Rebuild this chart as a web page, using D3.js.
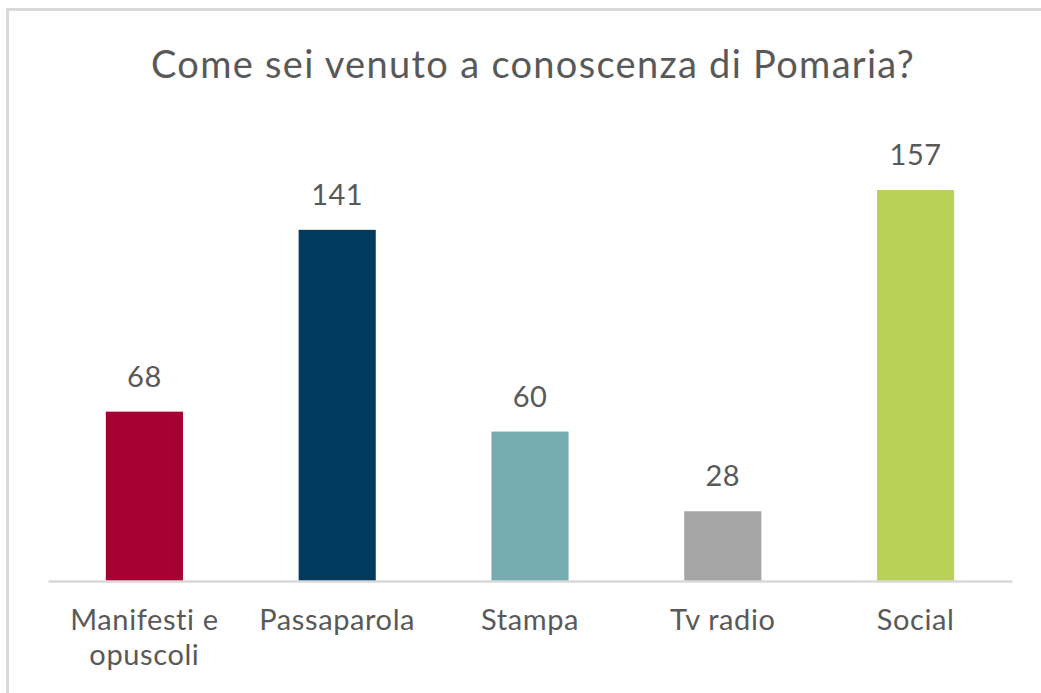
<!DOCTYPE html>
<html><head><meta charset="utf-8">
<script src="https://cdn.jsdelivr.net/npm/d3@7"></script>
<style>body{margin:0;background:#fff}svg{display:block}text{font-family:Lato,"Open Sans",sans-serif;fill:#595959}</style>
</head><body>
<script>
const title = "Come sei venuto a conoscenza di Pomaria?";
const categories = ["Manifesti e opuscoli", "Passaparola", "Stampa", "Tv radio", "Social"];
const labelLines = [["Manifesti e", "opuscoli"], ["Passaparola"], ["Stampa"], ["Tv radio"], ["Social"]];
const values = [68, 141, 60, 28, 157];
const colors = ["#a50031", "#003a5d", "#75acb0", "#a5a5a5", "#b9d156"];

const W = 1041, H = 693;
const svg = d3.select("body").append("svg").attr("width", W).attr("height", H);

// chart border (only top and left visible in reference)
svg.append("path").attr("d", `M7.5,${H+5} V9.5 H${W+5}`).attr("fill","none").attr("stroke","#d9d9d9").attr("stroke-width",3);

const x = d3.scaleBand().domain(categories).range([48, 1012]).paddingInner(0.6).paddingOuter(0.3);
const y = d3.scaleLinear().domain([0, 157]).range([581, 190]);

svg.append("text").attr("x", (48+1012)/2 + 3).attr("y", 78).attr("text-anchor","middle")
  .style("font-size","38px").style("letter-spacing","1.3px").text(title);

svg.selectAll("rect.bar").data(values).join("rect").attr("class","bar")
  .attr("x",(d,i)=>x(categories[i])).attr("width",x.bandwidth())
  .attr("y",d=>y(d)).attr("height",d=>y(0)-y(d)).attr("fill",(d,i)=>colors[i]);

svg.selectAll("text.val").data(values).join("text").attr("class","val")
  .attr("x",(d,i)=>x(categories[i])+x.bandwidth()/2).attr("y",d=>y(d)-25)
  .attr("text-anchor","middle").style("font-size","29px").style("letter-spacing","0.5px").text(d=>d);

const axis = d3.axisBottom(x).tickSize(0).tickFormat("");
const g = svg.append("g").attr("transform","translate(0,581)").call(axis);
g.select(".domain").attr("stroke","#d9d9d9").attr("stroke-width",2.5);

const lab = svg.selectAll("text.cat").data(categories).join("text").attr("class","cat")
  .attr("text-anchor","middle").style("font-size","29px").style("letter-spacing","0.6px")
  .attr("transform",(d)=>`translate(${x(d)+x.bandwidth()/2},630)`);
lab.each(function(d,i){
  const t = d3.select(this);
  labelLines[i].forEach((l,j)=>t.append("tspan").attr("x",0).attr("dy", j===0?0:35).text(l));
});
</script>
</body></html>
